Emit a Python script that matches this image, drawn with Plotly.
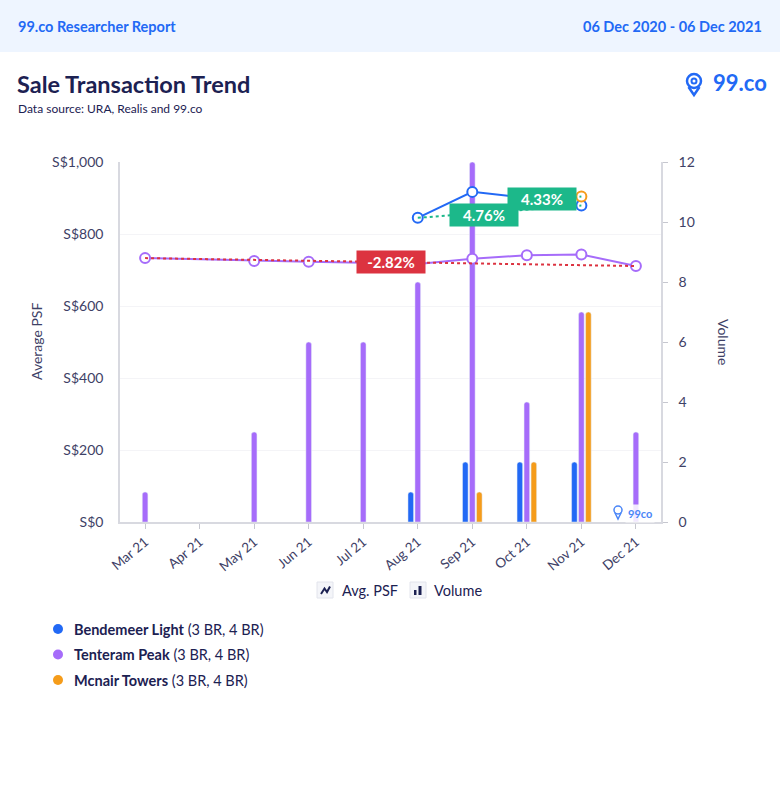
import plotly.graph_objects as go

# ---------------- data ----------------
months = ["Mar 21", "Apr 21", "May 21", "Jun 21", "Jul 21", "Aug 21", "Sep 21", "Oct 21", "Nov 21", "Dec 21"]

bend_psf = [None, None, None, None, None, 845, 917, 900, 879, None]
tent_psf = [733, None, 725, 723, 720, 717, 731, 741, 743, 711]
mcn_psf = [None, None, None, None, None, None, 866, 885, 904, None]

bend_vol = [None, None, None, None, None, 1, 2, 2, 2, None]
tent_vol = [1, None, 3, 6, 6, 8, 12, 4, 7, 3]
mcn_vol = [None, None, None, None, None, None, 1, 2, 7, None]

series_names = ["Bendemeer Light", "Tenteram Peak", "Mcnair Towers"]
series_sub = ["(3 BR, 4 BR)", "(3 BR, 4 BR)", "(3 BR, 4 BR)"]
trend_labels = ["4.76%", "-2.82%", "4.33%"]

psf_ticks = [0, 200, 400, 600, 800, 1000]
psf_ticktext = ["S$0", "S$200", "S$400", "S$600", "S$800", "S$1,000"]
vol_ticks = [0, 2, 4, 6, 8, 10, 12]

# ---------------- styles ----------------
BLUE = "#2269f5"
PURPLE = "#a66cfa"
ORANGE = "#f59c1a"
GREEN = "#1cb88a"
RED = "#dc3340"
NAVY = "#1c2152"
TXT = "#3e4166"
FONT = "Lato"
colors = [BLUE, PURPLE, ORANGE]
trend_colors = [GREEN, RED, GREEN]
label_shift = [(-16, -3), (0, 0), (15, 4)]

W, H = 780, 800
L, R, T, B = 120, 661, 162, 522


def px(x):
    return (x - L) / (R - L)


def py(y):
    return (B - y) / (B - T)


fig = go.Figure()

# bars (base axis y -> volume, right side)
for name, vals, c in zip(series_names, [bend_vol, tent_vol, mcn_vol], colors):
    fig.add_trace(go.Bar(x=months, y=vals, name=name, marker=dict(color=c, cornerradius=3),
                         yaxis="y", hoverinfo="skip"))

# lines (overlay axis y2 -> PSF, left side)
psfs = [bend_psf, tent_psf, mcn_psf]
for name, vals, c in zip(series_names, psfs, colors):
    fig.add_trace(go.Scatter(x=months, y=vals, mode="lines+markers", name=name, yaxis="y2",
                             connectgaps=True, line=dict(color=c, width=2),
                             marker=dict(size=10, color="white", line=dict(color=c, width=2))))

# trend lines from first to last point of each series
annotations = []
for vals, tc, lab, (dx, dy) in zip(psfs, trend_colors, trend_labels, label_shift):
    idx = [i for i, v in enumerate(vals) if v is not None]
    i0, i1 = idx[0], idx[-1]
    fig.add_trace(go.Scatter(x=[months[i0], months[i1]], y=[vals[i0], vals[i1]], mode="lines",
                             yaxis="y2", line=dict(color=tc, width=2, dash="dot"), hoverinfo="skip"))
    annotations.append(dict(x=(i0 + i1) / 2, y=(vals[i0] + vals[i1]) / 2, xref="x", yref="y2",
                            text="<b>%s</b>" % lab, showarrow=False, xshift=dx, yshift=dy,
                            font=dict(family=FONT, size=15, color="white"), bgcolor=tc,
                            borderpad=3, width=62, height=16))

shapes = []
# header band
shapes.append(dict(type="rect", xref="paper", yref="paper", x0=px(0), x1=px(W), y0=py(52), y1=py(0),
                   fillcolor="#eef5ff", line=dict(width=0), layer="below"))

# header texts
annotations += [
    dict(x=px(16), y=py(26), xref="paper", yref="paper", xanchor="left", yanchor="middle", showarrow=False,
         text="<b>99.co Researcher Report</b>", font=dict(family=FONT, size=14.5, color=BLUE)),
    dict(x=px(764), y=py(26), xref="paper", yref="paper", xanchor="right", yanchor="middle", showarrow=False,
         text="<b>06 Dec 2020 - 06 Dec 2021</b>", font=dict(family=FONT, size=14.5, color=BLUE)),
    dict(x=px(15), y=py(84), xref="paper", yref="paper", xanchor="left", yanchor="middle", showarrow=False,
         text="<b>Sale Transaction Trend</b>", font=dict(family=FONT, size=23.5, color=NAVY)),
    dict(x=px(16), y=py(108), xref="paper", yref="paper", xanchor="left", yanchor="middle", showarrow=False,
         text="Data source: URA, Realis and 99.co", font=dict(family=FONT, size=12, color=NAVY)),
    dict(x=px(711), y=py(83), xref="paper", yref="paper", xanchor="left", yanchor="middle", showarrow=False,
         text="<b>99.co</b>", font=dict(family=FONT, size=22, color=BLUE)),
    # axis titles
    dict(x=px(36), y=py(342), xref="paper", yref="paper", xanchor="center", yanchor="middle", showarrow=False,
         text="Average PSF", textangle=-90, font=dict(family=FONT, size=14, color=TXT)),
    dict(x=px(724), y=py(342), xref="paper", yref="paper", xanchor="center", yanchor="middle", showarrow=False,
         text="Volume", textangle=90, font=dict(family=FONT, size=14, color=TXT)),
    # watermark
    dict(x=px(625), y=py(513), xref="paper", yref="paper", xanchor="left", yanchor="middle", showarrow=False,
         text="<b>99co</b>", font=dict(family=FONT, size=11, color="#4a86f7"),
         bgcolor="rgba(255,255,255,0.85)", borderpad=2),
    # legend (type)
    dict(x=px(340), y=py(590), xref="paper", yref="paper", xanchor="left", yanchor="middle", showarrow=False,
         text="Avg. PSF", font=dict(family=FONT, size=14.5, color=NAVY)),
    dict(x=px(432), y=py(590), xref="paper", yref="paper", xanchor="left", yanchor="middle", showarrow=False,
         text="Volume", font=dict(family=FONT, size=14.5, color=NAVY)),
]

# logo pin (header)
shapes += [
    dict(type="circle", xref="paper", yref="paper", x0=px(687), x1=px(701), y0=py(74), y1=py(88),
         line=dict(color=BLUE, width=2.5)),
    dict(type="circle", xref="paper", yref="paper", x0=px(691.5), x1=px(696.5), y0=py(78.5), y1=py(83.5),
         line=dict(color=BLUE, width=2)),
    dict(type="path", xref="paper", yref="paper",
         path="M %f,%f L %f,%f L %f,%f" % (px(688.5), py(87), px(694), py(95), px(699.5), py(87)),
         line=dict(color=BLUE, width=2.5)),
]
# watermark pin
shapes += [
    dict(type="circle", xref="paper", yref="paper", x0=px(614), x1=px(622), y0=py(506), y1=py(514),
         line=dict(color="#4a86f7", width=1.5), fillcolor="rgba(255,255,255,0.85)"),
    dict(type="path", xref="paper", yref="paper",
         path="M %f,%f L %f,%f L %f,%f" % (px(614.8), py(512.5), px(618), py(519), px(621.2), py(512.5)),
         line=dict(color="#4a86f7", width=1.5)),
]

# legend icons
shapes += [
    dict(type="rect", xref="paper", yref="paper", x0=px(317), x1=px(333), y0=py(598), y1=py(582),
         fillcolor="#f4f5f9", line=dict(color="#e2e4ec", width=1)),
    dict(type="path", xref="paper", yref="paper",
         path="M %f,%f L %f,%f L %f,%f L %f,%f" % (px(321), py(594), px(324.5), py(588.5),
                                                  px(327), py(592), px(330), py(586.5)),
         line=dict(color=NAVY, width=2)),
    dict(type="rect", xref="paper", yref="paper", x0=px(410), x1=px(426), y0=py(598), y1=py(582),
         fillcolor="#f4f5f9", line=dict(color="#e2e4ec", width=1)),
    dict(type="rect", xref="paper", yref="paper", x0=px(414), x1=px(416.5), y0=py(595), y1=py(590),
         fillcolor=NAVY, line=dict(width=0)),
    dict(type="rect", xref="paper", yref="paper", x0=px(418.5), x1=px(421.5), y0=py(595), y1=py(586),
         fillcolor=NAVY, line=dict(width=0)),
]

# series legend
for k, (name, sub, c) in enumerate(zip(series_names, series_sub, colors)):
    yc = 629 + k * 25.5
    shapes.append(dict(type="circle", xref="paper", yref="paper", x0=px(53), x1=px(63), y0=py(yc - 5),
                       y1=py(yc + 5), fillcolor=c, line=dict(width=0)))
    annotations.append(dict(x=px(72), y=py(yc), xref="paper", yref="paper", xanchor="left",
                            yanchor="middle", showarrow=False, text="<b>%s</b> %s" % (name, sub),
                            font=dict(family=FONT, size=14.5, color=NAVY)))

fig.update_layout(
    width=W, height=H, autosize=False,
    margin=dict(l=L, r=W - R, t=T, b=H - B, pad=0),
    paper_bgcolor="white", plot_bgcolor="white",
    showlegend=False,
    barmode="group", bargap=0.615, bargroupgap=0.2,
    font=dict(family=FONT, color=TXT),
    xaxis=dict(type="category", categoryorder="array", categoryarray=months, range=[-0.46, 9.46],
               showline=True, linecolor="#d8d9e0", linewidth=1.5, ticks="outside", ticklen=5,
               tickcolor="#c6c7cf", tickangle=-40, tickfont=dict(family=FONT, size=13.5, color=TXT),
               showgrid=False, zeroline=False, fixedrange=True),
    yaxis=dict(side="right", range=[0, 12], tickvals=vol_ticks, showline=True, linecolor="#d8d9e0",
               linewidth=1.5, ticks="outside", ticklen=5, tickcolor="#c6c7cf", ticklabelstandoff=8,
               tickfont=dict(family=FONT, size=14, color=TXT), showgrid=False, zeroline=False),
    yaxis2=dict(side="left", overlaying="y", range=[0, 1000], tickvals=psf_ticks, ticktext=psf_ticktext,
                showline=True, linecolor="#d8d9e0", linewidth=1.5, ticks="",
                ticklabelstandoff=12, tickfont=dict(family=FONT, size=14, color=TXT),
                showgrid=True, gridcolor="#f4f4f7", zeroline=False),
    shapes=shapes,
    annotations=annotations,
)

fig.write_html("out.html", config={"displayModeBar": False},
               post_script="document.body.style.margin='0';")
